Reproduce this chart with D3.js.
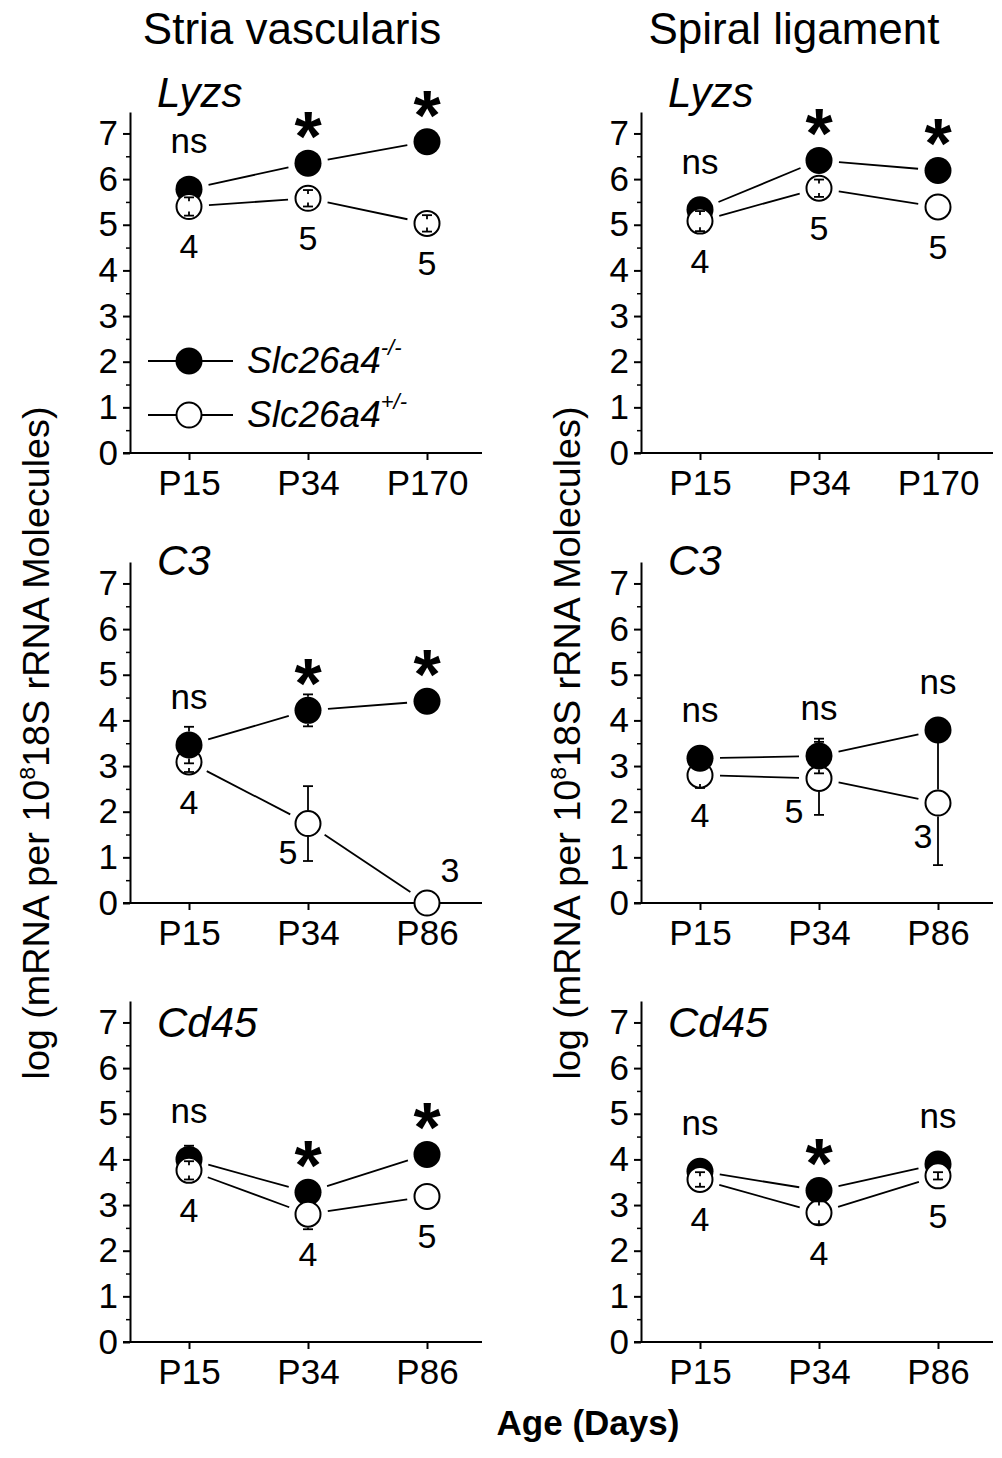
<!DOCTYPE html>
<html>
<head>
<meta charset="utf-8">
<script src="https://cdn.jsdelivr.net/npm/d3@7"></script>
<style>
  html, body { margin: 0; padding: 0; background: #fff; }
  svg { display: block; }
  text { font-family: "Liberation Sans", Arial, Helvetica, sans-serif; fill: #000; }
</style>
</head>
<body>
<svg id="chart" width="1002" height="1458"></svg>
<script>
// ---------------- DATA ----------------
const columnTitles = ["Stria vascularis", "Spiral ligament"];
const geneNames = ["Lyzs", "C3", "Cd45"];
const agesLyzs = ["P15", "P34", "P170"];
const agesOther = ["P15", "P34", "P86"];
const yTickValues = [0, 1, 2, 3, 4, 5, 6, 7];
const yMinorValues = [0.5, 1.5, 2.5, 3.5, 4.5, 5.5, 6.5];
const seriesNames = ["Slc26a4", "Slc26a4"];
const seriesSup = ["-/-", "+/-"];

// Stria vascularis, Lyzs
const svLyzsKO = [5.78, 6.35, 6.82];
const svLyzsKOErr = [0, 0, 0];
const svLyzsHet = [5.40, 5.58, 5.03];
const svLyzsHetErr = [0.20, 0.18, 0.18];
const svLyzsN = ["4", "5", "5"];
const svLyzsSig = ["ns", "*", "*"];
// Spiral ligament, Lyzs
const slLyzsKO = [5.33, 6.41, 6.19];
const slLyzsKOErr = [0, 0, 0];
const slLyzsHet = [5.08, 5.80, 5.39];
const slLyzsHetErr = [0.22, 0.19, 0];
const slLyzsN = ["4", "5", "5"];
const slLyzsSig = ["ns", "*", "*"];
// Stria vascularis, C3
const svC3KO = [3.46, 4.22, 4.42];
const svC3KOErr = [0.40, 0.35, 0];
const svC3Het = [3.09, 1.74, 0.0];
const svC3HetErr = [0.22, 0.82, 0];
const svC3N = ["4", "5", "3"];
const svC3Sig = ["ns", "*", "*"];
// Spiral ligament, C3
const slC3KO = [3.17, 3.22, 3.79];
const slC3KOErr = [0, 0.38, 0];
const slC3Het = [2.80, 2.73, 2.19];
const slC3HetErr = [0.28, 0.80, 1.36];
const slC3N = ["4", "5", "3"];
const slC3Sig = ["ns", "ns", "ns"];
// Stria vascularis, Cd45
const svCd45KO = [4.00, 3.28, 4.11];
const svCd45KOErr = [0.30, 0, 0];
const svCd45Het = [3.76, 2.80, 3.19];
const svCd45HetErr = [0.20, 0.33, 0];
const svCd45N = ["4", "4", "5"];
const svCd45Sig = ["ns", "*", "*"];
// Spiral ligament, Cd45
const slCd45KO = [3.74, 3.32, 3.90];
const slCd45KOErr = [0, 0, 0];
const slCd45Het = [3.56, 2.83, 3.64];
const slCd45HetErr = [0.16, 0.25, 0.08];
const slCd45N = ["4", "4", "5"];
const slCd45Sig = ["ns", "*", "ns"];

// ---------------- LAYOUT ----------------
const FONT = '"Liberation Sans", Arial, Helvetica, sans-serif';
const colAxisX = [130, 641];
const rowZeroY = [453, 903, 1342];
const rowGeneY = [107, 575, 1037];
const yTopVal = 7.47;
const plotH = 341;
const catStart = 59, catEnd = 297, xAxisEnd = 352;
const R = 13.5;

const panels = [
  {row:0,col:0,cats:agesLyzs,ko:svLyzsKO,koErr:svLyzsKOErr,het:svLyzsHet,hetErr:svLyzsHetErr,n:svLyzsN,sig:svLyzsSig,filledTop:false,legend:true},
  {row:0,col:1,cats:agesLyzs,ko:slLyzsKO,koErr:slLyzsKOErr,het:slLyzsHet,hetErr:slLyzsHetErr,n:slLyzsN,sig:slLyzsSig,filledTop:false},
  {row:1,col:0,cats:agesOther,ko:svC3KO,koErr:svC3KOErr,het:svC3Het,hetErr:svC3HetErr,n:svC3N,sig:svC3Sig,filledTop:true,
     nPos:{1:[-20,40],2:[23,-21]}},
  {row:1,col:1,cats:agesOther,ko:slC3KO,koErr:slC3KOErr,het:slC3Het,hetErr:slC3HetErr,n:slC3N,sig:slC3Sig,filledTop:true,
     nPos:{1:[-25,45],2:[-15,45]}},
  {row:2,col:0,cats:agesOther,ko:svCd45KO,koErr:svCd45KOErr,het:svCd45Het,hetErr:svCd45HetErr,n:svCd45N,sig:svCd45Sig,filledTop:false},
  {row:2,col:1,cats:agesOther,ko:slCd45KO,koErr:slCd45KOErr,het:slCd45Het,hetErr:slCd45HetErr,n:slCd45N,sig:slCd45Sig,filledTop:false}
];

const svg = d3.select("#chart");

// Column titles
[292, 794].forEach((cx, i) => {
  svg.append("text").attr("x", cx).attr("y", 44).attr("text-anchor", "middle")
    .attr("font-size", 44).text(columnTitles[i]);
});

// Y axis labels
[49, 580].forEach(bx => {
  const t = svg.append("text")
    .attr("transform", `translate(${bx},743) rotate(-90)`)
    .attr("text-anchor", "middle").attr("font-size", 36)
    .attr("textLength", 673).attr("lengthAdjust", "spacingAndGlyphs");
  t.append("tspan").text("log (mRNA per 10");
  t.append("tspan").attr("font-size", 22).attr("dy", -14).text("8");
  t.append("tspan").attr("dy", 14).text("18S rRNA Molecules)");
});

// X axis title
svg.append("text").attr("x", 588).attr("y", 1435).attr("text-anchor", "middle")
  .attr("font-size", 35).attr("font-weight", "bold").text("Age (Days)");

panels.forEach(p => {
  const ax = colAxisX[p.col], zy = rowZeroY[p.row];
  const y = d3.scaleLinear().domain([0, yTopVal]).range([zy, zy - plotH]);
  const x = d3.scalePoint().domain(p.cats).range([ax + catStart, ax + catEnd]);
  const g = svg.append("g");

  // Y axis major
  const yAx = g.append("g").attr("transform", `translate(${ax},0)`)
    .call(d3.axisLeft(y).tickValues(yTickValues).tickFormat(d3.format("d"))
      .tickSize(7).tickSizeOuter(0).tickPadding(5));
  yAx.select(".domain").attr("stroke-width", 2);
  yAx.selectAll(".tick line").attr("stroke-width", 2);
  yAx.selectAll(".tick text").attr("font-size", 35).attr("font-family", FONT);
  // Y axis minor
  const yMin = g.append("g").attr("transform", `translate(${ax},0)`)
    .call(d3.axisLeft(y).tickValues(yMinorValues).tickFormat("").tickSize(4).tickSizeOuter(0));
  yMin.select(".domain").remove();
  yMin.selectAll(".tick line").attr("stroke-width", 1.5);

  // X axis
  g.append("line").attr("x1", ax - 7).attr("x2", ax + xAxisEnd)
    .attr("y1", zy).attr("y2", zy).attr("stroke", "#000").attr("stroke-width", 2);
  const xAx = g.append("g").attr("transform", `translate(0,${zy})`)
    .call(d3.axisBottom(x).tickSize(7).tickSizeOuter(0).tickPadding(10));
  xAx.select(".domain").remove();
  xAx.selectAll(".tick line").attr("stroke-width", 2);
  xAx.selectAll(".tick text").attr("font-size", 35).attr("font-family", FONT);

  // Gene name
  g.append("text").attr("x", ax + 27).attr("y", rowGeneY[p.row])
    .attr("font-size", 42).attr("font-style", "italic").text(geneNames[p.row]);

  const mk = (vals, errs) => p.cats.map((c, i) => ({c, v: vals[i], e: errs[i], cx: x(c), cy: y(vals[i])}));
  const koPts = mk(p.ko, p.koErr), hetPts = mk(p.het, p.hetErr);

  // connector lines trimmed near symbols
  const drawConn = pts => {
    for (let i = 0; i < pts.length - 1; i++) {
      const a = pts[i], b = pts[i + 1];
      const dx = b.cx - a.cx, dy = b.cy - a.cy, L = Math.hypot(dx, dy), t = 20 / L;
      g.append("line")
        .attr("x1", a.cx + dx * t).attr("y1", a.cy + dy * t)
        .attr("x2", b.cx - dx * t).attr("y2", b.cy - dy * t)
        .attr("stroke", "#000").attr("stroke-width", 1.8);
    }
  };
  drawConn(koPts); drawConn(hetPts);

  const drawErr = (pts, color) => {
    pts.forEach(d => {
      if (!d.e) return;
      const yt = y(d.v + d.e), yb = y(d.v - d.e);
      [[yt, -1], [yb, 1]].forEach(([ye, s]) => {
        const edge = d.cy + s * R;
        const y2 = (s < 0 ? ye < edge : ye > edge) ? edge : ye - s * 4;
        g.append("line").attr("x1", d.cx).attr("x2", d.cx).attr("y1", ye).attr("y2", y2)
          .attr("stroke", color).attr("stroke-width", 1.8);
        g.append("line").attr("x1", d.cx - 5).attr("x2", d.cx + 5).attr("y1", ye).attr("y2", ye)
          .attr("stroke", color).attr("stroke-width", 1.8);
      });
    });
  };
  const drawFilled = () => {
    g.selectAll(null).data(koPts).join("circle")
      .attr("cx", d => d.cx).attr("cy", d => d.cy).attr("r", R).attr("fill", "#000");
    drawErr(koPts, "#000");
  };
  const drawOpen = () => {
    g.selectAll(null).data(hetPts).join("circle")
      .attr("cx", d => d.cx).attr("cy", d => d.cy).attr("r", R - 1)
      .attr("fill", "#fff").attr("stroke", "#000").attr("stroke-width", 2);
    drawErr(hetPts, "#000");
  };
  if (p.filledTop) { drawOpen(); drawFilled(); } else { drawFilled(); drawOpen(); }

  // significance labels
  koPts.forEach((d, i) => {
    const s = p.sig[i];
    const ref = Math.min(d.cy, hetPts[i].cy);
    if (s === "*") {
      g.append("text").attr("x", d.cx).attr("y", ref - 42 + 40).attr("text-anchor", "middle")
        .attr("font-size", 70).attr("font-weight", "bold").text("*");
    } else {
      g.append("text").attr("x", d.cx).attr("y", ref - 36).attr("text-anchor", "middle")
        .attr("font-size", 35).text(s);
    }
  });
  // n labels
  hetPts.forEach((d, i) => {
    const off = (p.nPos && p.nPos[i]) || [0, 52];
    g.append("text").attr("x", d.cx + off[0]).attr("y", d.cy + off[1]).attr("text-anchor", "middle")
      .attr("font-size", 34).text(p.n[i]);
  });

  // legend
  if (p.legend) {
    [[361, true], [415, false]].forEach(([ly, filled], i) => {
      g.append("line").attr("x1", ax + 18).attr("x2", ax + 103).attr("y1", ly).attr("y2", ly)
        .attr("stroke", "#000").attr("stroke-width", 1.8);
      const c = g.append("circle").attr("cx", ax + 59).attr("cy", ly).attr("r", filled ? R : R - 1);
      if (filled) c.attr("fill", "#000");
      else c.attr("fill", "#fff").attr("stroke", "#000").attr("stroke-width", 2);
      const t = g.append("text").attr("x", ax + 117).attr("y", ly + 12)
        .attr("font-size", 37).attr("font-style", "italic");
      t.append("tspan").text(seriesNames[i]);
      t.append("tspan").attr("font-size", 22).attr("dy", -18).text(seriesSup[i]);
    });
  }
});
</script>
</body>
</html>
